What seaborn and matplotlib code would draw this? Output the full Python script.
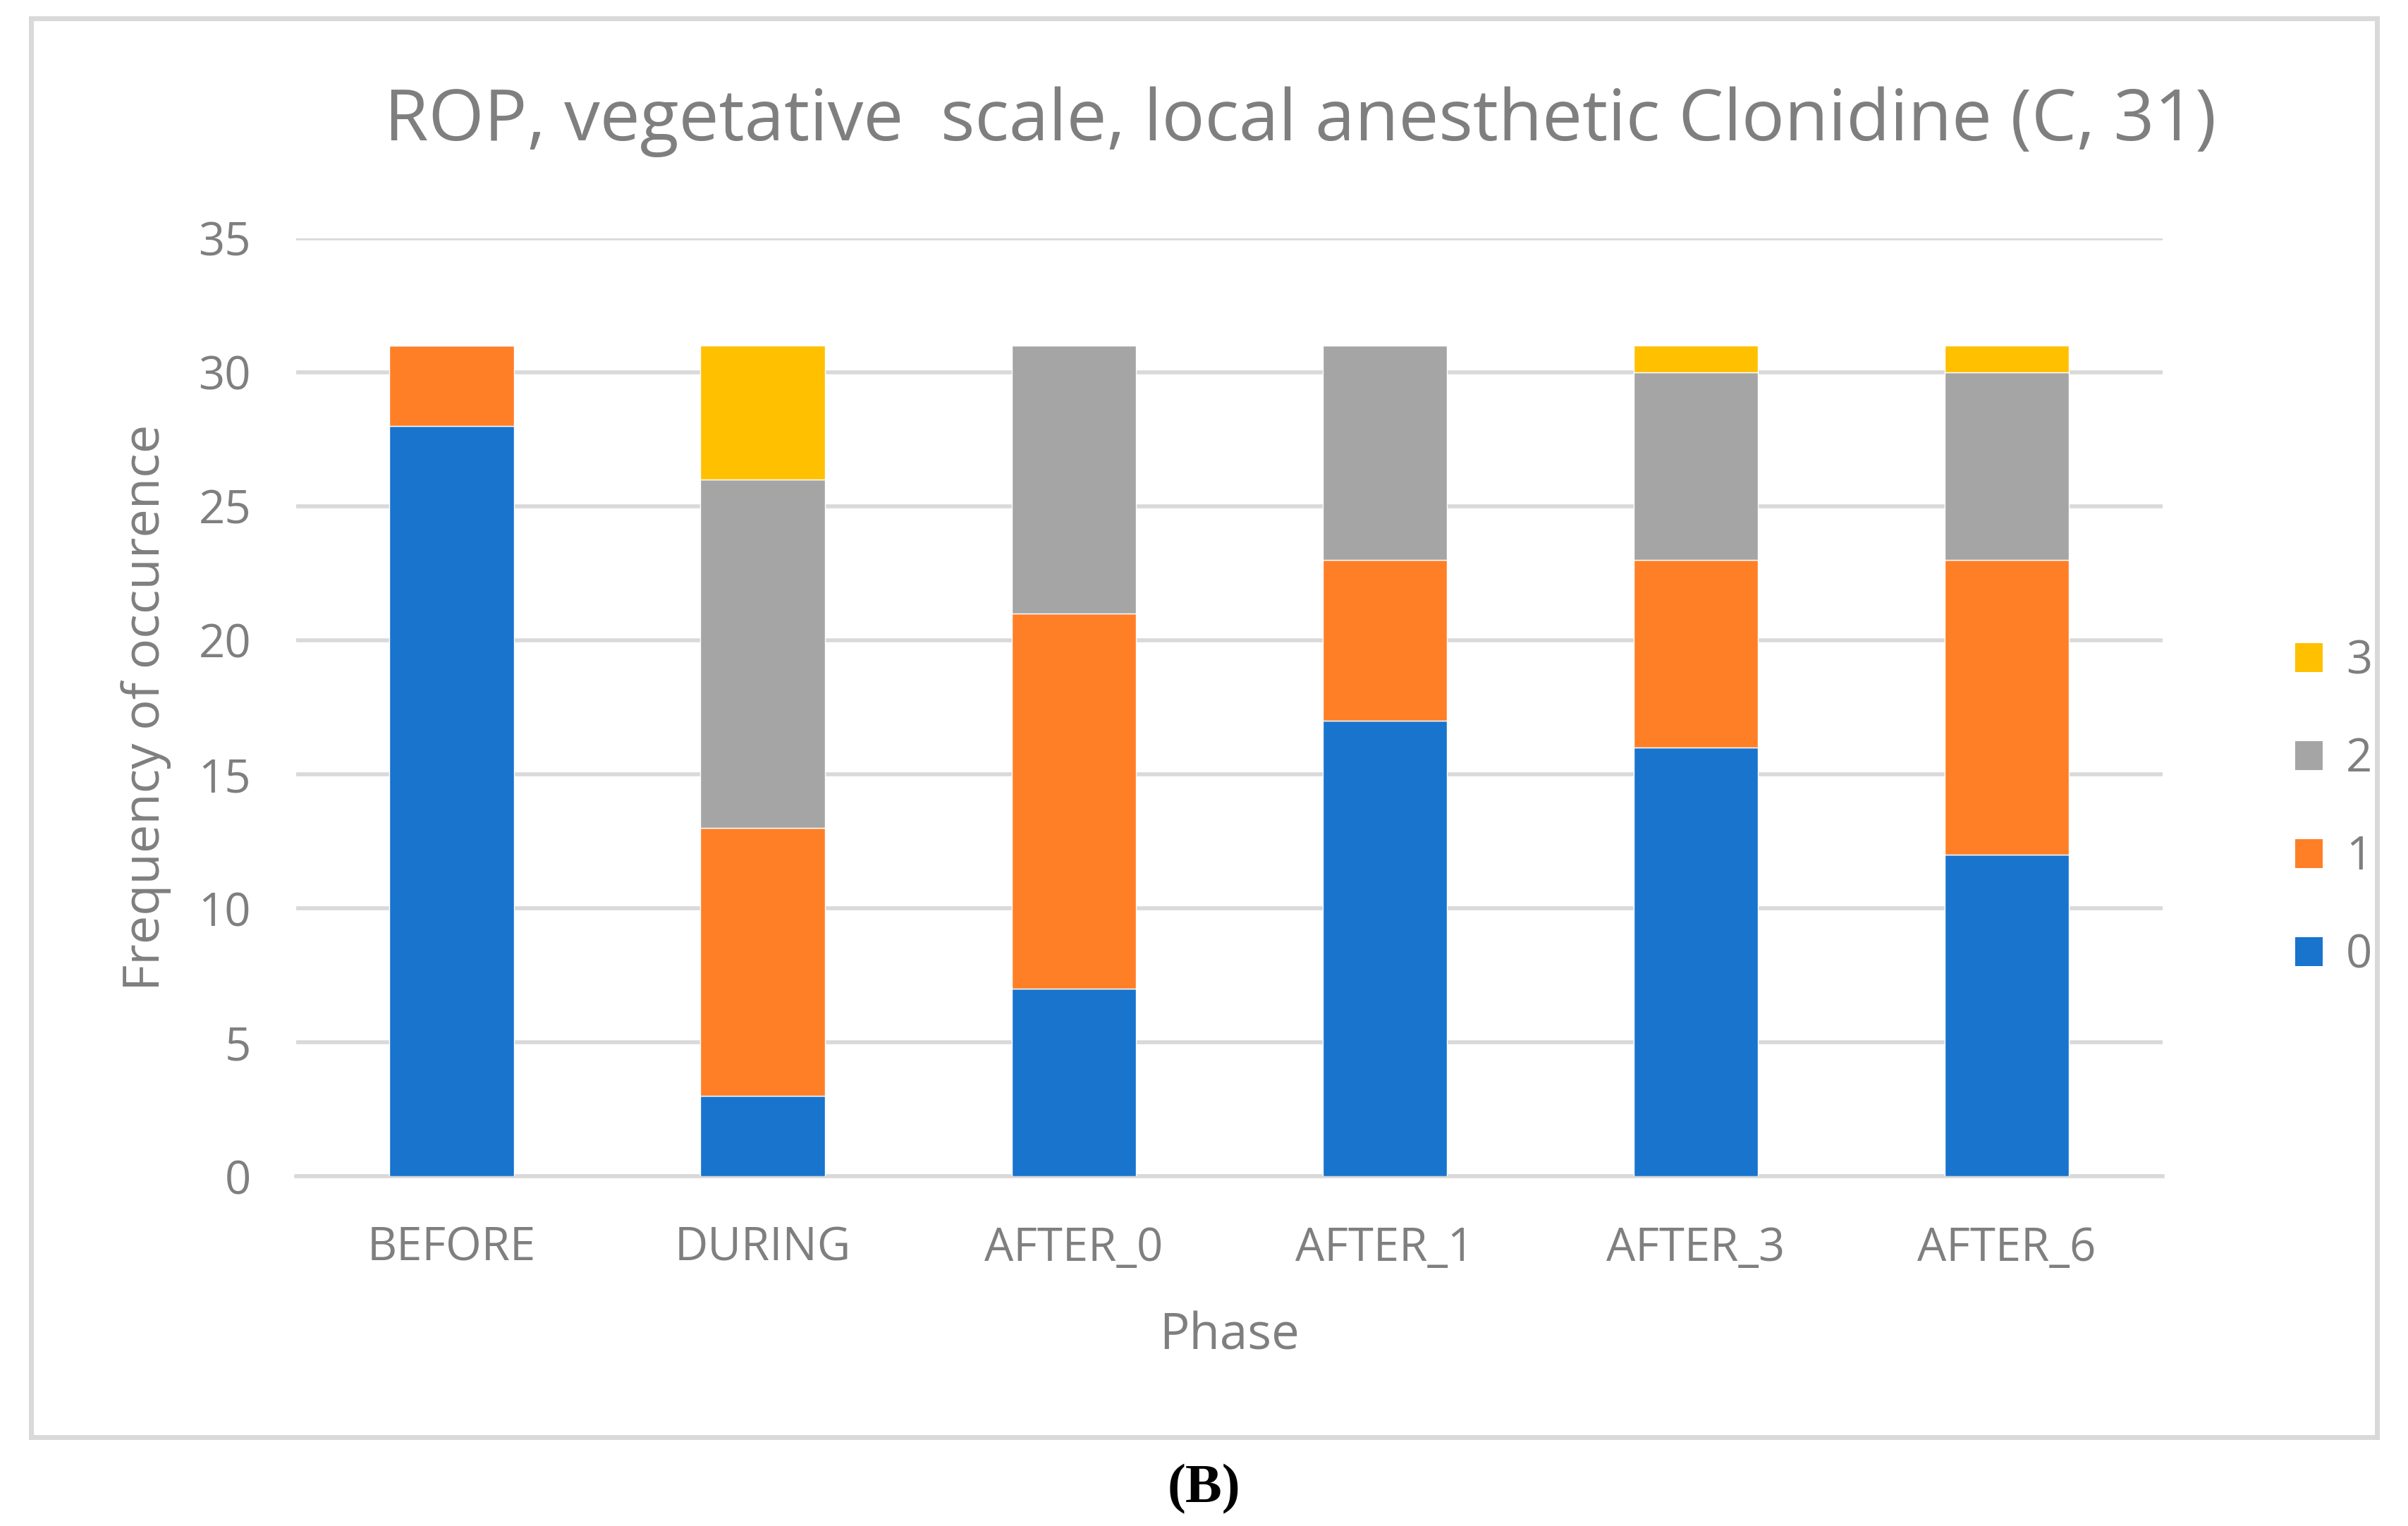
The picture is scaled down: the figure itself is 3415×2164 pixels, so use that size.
import numpy as np
import pandas as pd
import seaborn as sns
import matplotlib.pyplot as plt
from matplotlib.patches import Patch, Rectangle

# data
phases = ['BEFORE', 'DURING', 'AFTER_0', 'AFTER_1', 'AFTER_3', 'AFTER_6']
score0 = [28, 3, 7, 17, 16, 12]
score1 = [3, 10, 14, 6, 7, 11]
score2 = [0, 13, 10, 8, 7, 7]
score3 = [0, 5, 0, 0, 1, 1]
scores = ['0', '1', '2', '3']
colors = ['#1874CD', '#FF7F27', '#A5A5A5', '#FFC000']

txt = '#7F7F7F'
grid = '#D9D9D9'

sns.set_theme(style='white')
plt.rcParams['font.family'] = ['Open Sans', 'DejaVu Sans']

fig = plt.figure(figsize=(34.15, 21.64), dpi=100)
ax = fig.add_axes([0.123, 0.229, 0.775, 0.615])

bottom = np.zeros(len(phases))
for vals, c in zip([score0, score1, score2, score3], colors):
    sns.barplot(x=phases, y=vals, bottom=bottom, color=c, width=0.4,
                saturation=1, ax=ax, zorder=3)
    bottom = bottom + np.array(vals)

ax.set_xlim(-0.5, 5.5)
ax.set_ylim(0, 35)
ax.set_yticks(range(0, 36, 5))
ax.yaxis.grid(True, color=grid, linewidth=4, zorder=0)
ax.set_axisbelow(True)
for s in ['top', 'right', 'left']:
    ax.spines[s].set_visible(False)
ax.spines['bottom'].set_color(grid)
ax.spines['bottom'].set_linewidth(4)
ax.tick_params(axis='both', length=0, labelsize=47, labelcolor=txt)
ax.tick_params(axis='x', pad=50)
ax.tick_params(axis='y', pad=46)

ax.set_xlabel('Phase', fontsize=51, color=txt, labelpad=40)
ax.set_ylabel('Frequency of occurence', fontsize=52, color=txt, labelpad=28)

fig.text(0.54, 0.92, 'ROP, vegetative  scale, local anesthetic Clonidine (C, 31)',
         ha='center', va='center', fontsize=73, color=txt)

handles = [Patch(facecolor=c, edgecolor='none') for c in colors][::-1]
fig.legend(handles, scores[::-1], loc='center left', bbox_to_anchor=(0.936, 0.47),
           frameon=False, fontsize=47, labelcolor=txt, handlelength=0.6,
           handleheight=0.6, labelspacing=1.12, handletextpad=0.5)

# outer chart frame
fig.patches.append(Rectangle((0.0128, 0.058), 0.9742, 0.93, transform=fig.transFigure,
                             fill=False, edgecolor=grid, linewidth=5))

fig.text(0.5, 0.024, '(B)', ha='center', va='center', fontsize=56,
         fontweight='bold', family='Liberation Serif', color='black')

plt.savefig('out.png')
